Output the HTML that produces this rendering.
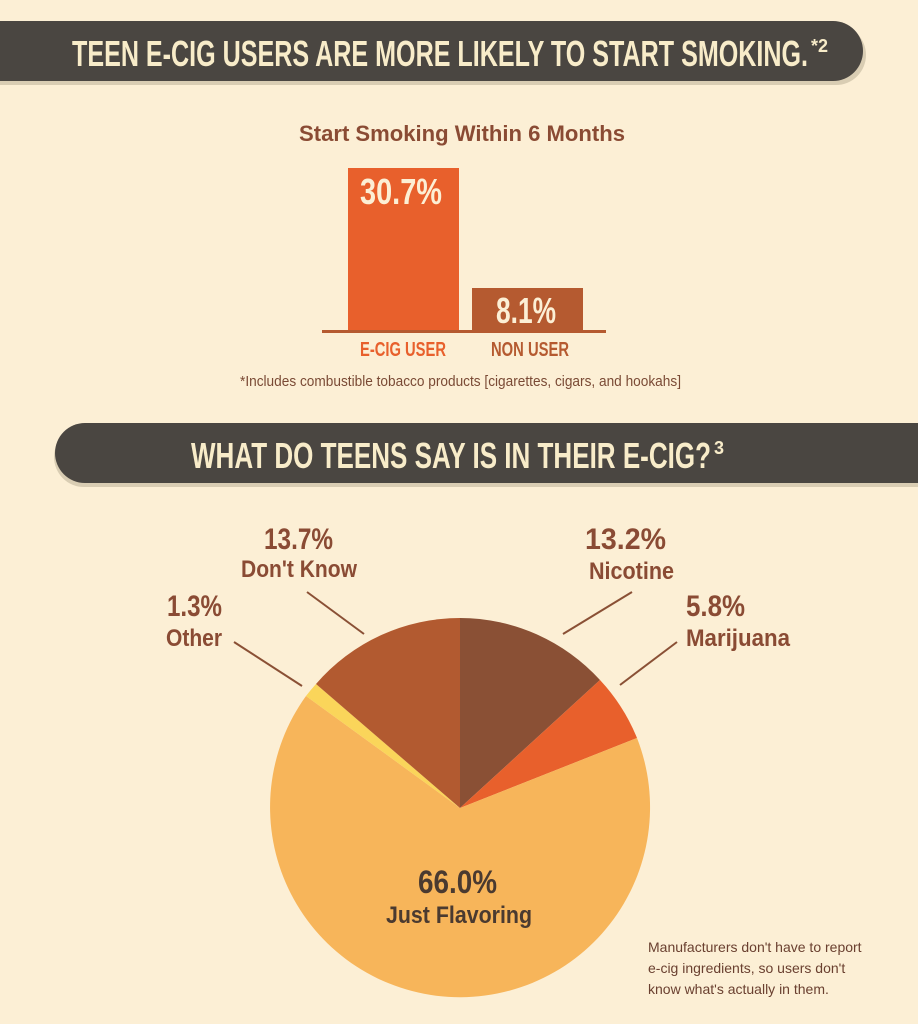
<!DOCTYPE html>
<html><head><meta charset="utf-8"><style>
html,body{margin:0;padding:0;background:#fcefd5;}
svg{display:block}
text{font-family:"Liberation Sans Narrow","Liberation Sans",sans-serif;font-weight:bold}
</style></head><body>
<svg width="918" height="1024" viewBox="0 0 918 1024" xmlns="http://www.w3.org/2000/svg">
<rect width="918" height="1024" fill="#fcefd5"/>
<path d="M0 25 H836 a30 30 0 0 1 0 60 H0 Z" fill="#d9cdb3"/>
<path d="M0 21 H833 a30 30 0 0 1 0 60 H0 Z" fill="#4a4641"/>
<text x="72" y="66" font-size="36" fill="#f8ecc9" textLength="736" lengthAdjust="spacingAndGlyphs">TEEN E-CIG USERS ARE MORE LIKELY TO START SMOKING.</text>
<text x="811" y="52" font-size="18" fill="#f8ecc9">*2</text>
<text x="462" y="141" font-size="22" fill="#8a4b34" text-anchor="middle" textLength="326" lengthAdjust="spacingAndGlyphs">Start Smoking Within 6 Months</text>
<rect x="348" y="168" width="111" height="163" fill="#e8602c"/>
<rect x="472" y="288" width="111" height="43" fill="#b55a30"/>
<rect x="322" y="330" width="284" height="3" fill="#b55a30"/>
<text x="360" y="204" font-size="36" fill="#fcefd5" textLength="82" lengthAdjust="spacingAndGlyphs">30.7%</text>
<text x="496" y="323" font-size="36" fill="#fcefd5" textLength="60" lengthAdjust="spacingAndGlyphs">8.1%</text>
<text x="360" y="356" font-size="20" fill="#e8602c" textLength="86" lengthAdjust="spacingAndGlyphs">E-CIG USER</text>
<text x="491" y="356" font-size="20" fill="#b55a30" textLength="78" lengthAdjust="spacingAndGlyphs">NON USER</text>
<text x="240" y="386" font-size="15" style="font-weight:normal" fill="#7a4a35" textLength="441" lengthAdjust="spacingAndGlyphs">*Includes combustible tobacco products [cigarettes, cigars, and hookahs]</text>
<path d="M918 427 H84 a30 30 0 0 0 0 60 H918 Z" fill="#d9cdb3"/>
<path d="M918 423 H85 a30 30 0 0 0 0 60 H918 Z" fill="#4a4641"/>
<text x="191" y="468" font-size="36" fill="#f8ecc9" textLength="520" lengthAdjust="spacingAndGlyphs">WHAT DO TEENS SAY IS IN THEIR E-CIG?</text>
<text x="714" y="454" font-size="18" fill="#f8ecc9">3</text>
<g transform="translate(460,808)">
<path d="M0 0 L0 -190 A190 190 0 0 1 140 -128 Z" fill="#8a5035"/>
<path d="M0 0 L140 -128 A190 190 0 0 1 177 -70 Z" fill="#e8602c"/>
<path d="M0 0 L177 -70 A190 190 0 1 1 -154 -112 Z" fill="#f7b55a"/>
<path d="M0 0 L-154 -112 A190 190 0 0 1 -144 -124 Z" fill="#fad55a"/>
<path d="M0 0 L-144 -124 A190 190 0 0 1 0 -190 Z" fill="#b25a30"/>
</g>
<g stroke="#8a5035" stroke-width="2">
<line x1="563" y1="634" x2="632" y2="592"/>
<line x1="620" y1="685" x2="677" y2="642"/>
<line x1="364" y1="634" x2="307" y2="592"/>
<line x1="302" y1="686" x2="234" y2="642"/>
</g>
<g fill="#8a4b34">
<text x="264" y="549" font-size="30" textLength="69" lengthAdjust="spacingAndGlyphs">13.7%</text>
<text x="241" y="577" font-size="24" textLength="116" lengthAdjust="spacingAndGlyphs">Don't Know</text>
<text x="167" y="616" font-size="30" textLength="55" lengthAdjust="spacingAndGlyphs">1.3%</text>
<text x="166" y="646" font-size="24" textLength="56" lengthAdjust="spacingAndGlyphs">Other</text>
<text x="585" y="549" font-size="30" textLength="81" lengthAdjust="spacingAndGlyphs">13.2%</text>
<text x="589" y="579" font-size="24" textLength="85" lengthAdjust="spacingAndGlyphs">Nicotine</text>
<text x="686" y="616" font-size="30" textLength="59" lengthAdjust="spacingAndGlyphs">5.8%</text>
<text x="686" y="646" font-size="24" textLength="104" lengthAdjust="spacingAndGlyphs">Marijuana</text>
</g>
<text x="418" y="893" font-size="32" fill="#4a3a30" textLength="79" lengthAdjust="spacingAndGlyphs">66.0%</text>
<text x="386" y="923" font-size="24" fill="#4a3a30" textLength="146" lengthAdjust="spacingAndGlyphs">Just Flavoring</text>
<g font-size="14" fill="#6a4030">
<text x="648" y="952" style="font-weight:normal">Manufacturers don't have to report</text>
<text x="648" y="973" style="font-weight:normal">e-cig ingredients, so users don't</text>
<text x="648" y="994" style="font-weight:normal">know what's actually in them.</text>
</g>
</svg>
</body></html>
